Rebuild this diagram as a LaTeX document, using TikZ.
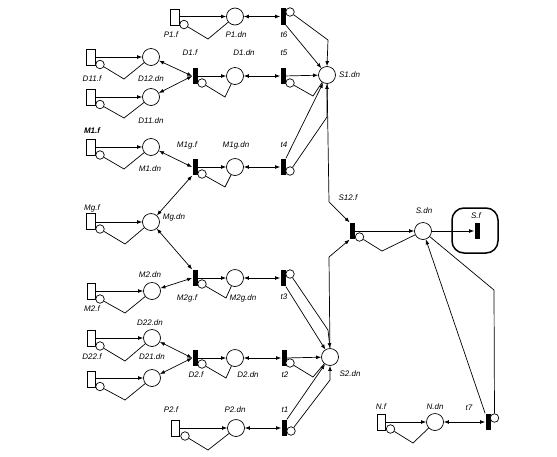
\documentclass[tikz,border=0pt]{standalone}
\usepackage{fontspec}
\setmainfont{Liberation Sans}
\usetikzlibrary{arrows.meta}
\tikzset{
  every path/.style={line width=0.7pt},
  arr/.style={-{Latex[length=5pt,width=3.8pt]}},
  darr/.style={{Latex[length=5pt,width=3.8pt]}-{Latex[length=5pt,width=3.8pt]}},
  place/.style={circle,draw,fill=white,inner sep=0,minimum size=17pt},
  small/.style={circle,draw,fill=white,inner sep=0,minimum size=8.5pt},
  fin/.style={rectangle,draw,fill=white,inner sep=0,minimum width=8.5pt,minimum height=16pt},
  bar/.style={rectangle,fill=black,inner sep=0,minimum width=5pt,minimum height=16.5pt},
  lab/.style={inner sep=0,font=\itshape\fontsize{8}{9.6}\selectfont},
  boldlab/.style={inner sep=0,font=\bfseries\itshape\fontsize{8}{9.6}\selectfont}
}
\newcommand{\srcblock}[7]{%
  \node[fin] (#1r) at (#2,#3) {};
  \node[small] (#1s) at (#4,#5) {};
  \coordinate (#1b) at (#6,#7);
}
\begin{document}
\begin{tikzpicture}[x=1pt,y=-1pt]
\useasboundingbox (0,0) rectangle (557,456);
% places
\foreach \n/\x/\y in {P1/235/16.5,D12/151/57,D11/151/97,D1/235/76,S1/327/75,M1/151/147,M1g/235/167,
  Mg/151/222,M2/152/291,M2g/235/278,D22/152/338,D21/152/378,D2/235/358,S2/330/357,P2/236/428,S/423/231,N/435/422}
  {\node[place] (\n) at (\x,\y) {};}
% bars
\foreach \n/\x/\y in {t6/283/16.5,D1f/195/76,t5/283/76,M1gf/195/167,t4/283/167,M2gf/195/278,t3/283/278,
  D2f/195/358,t2/284/358,t1/284/428,S12f/352.5/231,t7/488/422}
  {\node[bar] (\n) at (\x,\y) {};}
% small circles of bars
\foreach \n/\x/\y in {t6s/290/12,D1fs/202/83,t5s/290/83,M1gfs/202/174,t4s/290/171,M2gfs/202/284,t3s/290/274,
  D2fs/202/364,t2s/290/363,t1s/291/431,S12fs/359.5/237,t7s/494.5/418}
  {\node[small] (\n) at (\x,\y) {};}
% source blocks
\srcblock{P1f}{175}{17}{184}{24.5}{208}{39}
\srcblock{D12f}{91}{57}{100}{64.5}{124}{79}
\srcblock{D11f}{91}{97}{100}{104.5}{124}{118}
\srcblock{M1f}{91}{147.5}{100}{155}{124}{169}
\srcblock{Mgf}{91}{221}{100}{229}{125}{244}
\srcblock{M2f}{91.5}{291}{100}{299}{125}{313}
\srcblock{D22f}{91.5}{338}{100}{346}{125}{361}
\srcblock{D21f}{91.5}{379}{100}{386.5}{125}{400}
\srcblock{P2f}{175.5}{428}{185}{436}{208}{450}
\srcblock{Nf}{381.5}{422}{390.5}{429}{413}{443}
% source connectors
\foreach \a/\p in {P1f/P1,D12f/D12,D11f/D11,M1f/M1,Mgf/Mg,M2f/M2,D22f/D22,D21f/D21,P2f/P2,Nf/N}{
  \draw[arr] (\a r.east |- \p) -- (\p);
  \draw (\a s) -- (\a b) -- (\p);
}
% bends of transitions
\coordinate (D1b) at (225,97);
\coordinate (t5b) at (313,96);
\coordinate (M1gb) at (225,187);
\coordinate (M2gb) at (226,298);
\coordinate (D2b) at (226,378);
\coordinate (t2b) at (313,377);
\coordinate (Sb) at (382,251);
\draw (D1fs) -- (D1b) -- (D1);
\draw (t5s) -- (t5b) -- (S1);
\draw (M1gfs) -- (M1gb) -- (M1g);
\draw (M2gfs) -- (M2gb) -- (M2g);
\draw (D2fs) -- (D2b) -- (D2);
\draw (t2s) -- (t2b) -- (S2);
\draw (S12fs) -- (Sb) -- (S);
% bars to places
\draw[arr] (D1f) -- (D1);
\draw[arr] (M1gf) -- (M1g);
\draw[arr] (M2gf) -- (M2g);
\draw[arr] (D2f) -- (D2);
\draw[arr] (S12f) -- (S);
\draw[arr] (t5) -- (S1);
\draw[arr] (t2) -- (S2);
% double arrows
\draw[darr] (P1) -- (t6);
\draw[darr] (D1) -- (t5);
\draw[darr] (M1g) -- (t4);
\draw[darr] (M2g) -- (t3);
\draw[darr] (D2) -- (t2);
\draw[darr] (P2) -- (t1);
\draw[darr] (N) -- (t7);
\draw[darr] (D12) -- (D1f.west);
\draw[darr] (D11) -- (D1f.west);
\draw[darr] (M1) -- (M1gf.west);
\draw[darr] (Mg) -- (M1gf.south west);
\draw[darr] (Mg) -- (M2gf.north west);
\draw[darr] (M2) -- (M2gf.west);
\draw[darr] (D22) -- (D2f.west);
\draw[darr] (D21) -- (D2f.west);
% into S1
\coordinate (c6) at (328,40);
\coordinate (c4) at (327,117);
\draw[arr] (t6.south east) -- (S1);
\draw[arr] (t6s) -- (c6) -- (S1.north);
\draw[arr] (t4.north east) -- (S1);
\draw[arr] (t4s) -- (c4) -- (S1.south);
% into S2
\coordinate (c3) at (328,330);
\coordinate (c1) at (330,380);
\draw[arr] (t3.south east) -- (S2);
\draw[arr] (t3s) -- (c3) -- (S2.north);
\draw[arr] (t1.north east) -- (S2);
\draw[arr] (t1s) -- (c1) -- (S2.south);
% to S12.f
\coordinate (c12a) at (329,202);
\coordinate (c12b) at (329,257);
\draw[arr] (S1) -- (c12a) -- (S12f.north west);
\draw[arr] (S2) -- (c12b) -- (S12f.south west);
% S box
\node[draw,line width=1.5pt,rounded corners=12pt,minimum width=46pt,minimum height=45pt,inner sep=0] (Sbox) at (475,230.5) {};
\node[bar] (Sf) at (477,231) {};
\draw[arr] (S) -- (Sf);
% t7 to S
\coordinate (c7) at (494,290);
\draw (t7s) -- (c7) -- (S);
\draw[arr] (t7.north west) -- (S);
% labels
\foreach \n/\x/\y/\t in {lP1f/171/35/P1.f,lP1dn/236/35/P1.dn,lt6/284/35/t6,lD1f/190/53/D1.f,lD1dn/244/53/D1.dn,
  lt5/284/53/t5,lS1/349.5/75/S1.dn,lD11f/92/79/D11.f,lD12/151/79/D12.dn,lD11/151/121/D11.dn,
  lM1g/187/145/M1g.f,lM1gdn/236/145/M1g.dn,lt4/284/145/t4,lM1dn/150/169/M1.dn,lMgf/92/208/Mg.f,lMg/174/217/Mg.dn,
  lS12/348/198/S12.f,lM2dn/150/275/M2.dn,lM2gf/187/298/M2g.f,lM2gdn/243/298/M2g.dn,lt3/284/297/t3,lM2f/92/309/M2.f,
  lD22/150/323/D22.dn,lD22f/92/357/D22.f,lD21/152/357/D21.dn,lD2f/196/375/D2.f,lD2dn/248/375/D2.dn,lt2/285/375/t2,
  lS2/350/374/S2.dn,lP2f/171/410/P2.f,lP2dn/235/410/P2.dn,lt1/285/410/t1,lSdn/424/211/S.dn,lSf/476/216/S.f,
  lNf/381/407/N.f,lNdn/435/407/N.dn,lt7/469/408/t7}
  {\node[lab] (\n) at (\x,\y) {\t};}
\node[boldlab] (lM1f) at (92,131) {M1.f};
\end{tikzpicture}
\end{document}
